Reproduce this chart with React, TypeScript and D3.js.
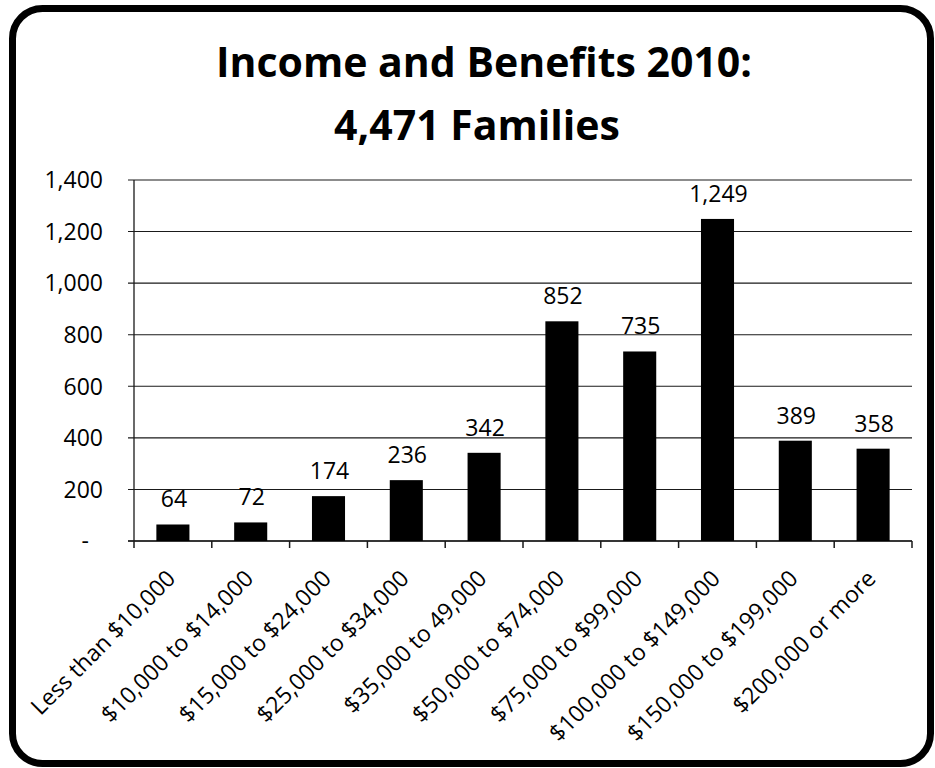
import React from "react";
import * as d3 from "d3";

const categories = [
  "Less than $10,000",
  "$10,000 to $14,000",
  "$15,000 to $24,000",
  "$25,000 to $34,000",
  "$35,000 to 49,000",
  "$50,000 to $74,000",
  "$75,000 to $99,000",
  "$100,000 to $149,000",
  "$150,000 to $199,000",
  "$200,000 or more",
];
const families = [64, 72, 174, 236, 342, 852, 735, 1249, 389, 358];
const yTicks = [0, 200, 400, 600, 800, 1000, 1200, 1400];
const titleLines = ["Income and Benefits 2010:", "4,471 Families"];

const W = 935;
const H = 768;
const FONT = "'Open Sans', 'DejaVu Sans', sans-serif";

export default function App() {
  const left = 134;
  const right = 912;
  const top = 180;
  const bottom = 541;

  const x = d3.scaleBand<string>().domain(categories).range([left, right]).padding(0);
  const y = d3.scaleLinear().domain([0, 1400]).range([bottom, top]);
  const barW = x.bandwidth() * 0.425;
  const fmt = d3.format(",");

  return (
    <svg
      width={W}
      height={H}
      viewBox={`0 0 ${W} ${H}`}
      style={{ position: "absolute", left: 0, top: 0, display: "block", background: "#fff" }}
    >
      <rect x={0} y={0} width={W} height={H} fill="#fff" />
      {/* outer rounded frame */}
      <rect x={12.5} y={8.5} width={918} height={755} rx={30} ry={30} fill="none" stroke="#000" strokeWidth={7} />

      {/* title */}
      <text x={484} y={77} textAnchor="middle" fontFamily={FONT} fontWeight={700} fontSize={41} fill="#000">
        {titleLines[0]}
      </text>
      <text x={477} y={140} textAnchor="middle" fontFamily={FONT} fontWeight={700} fontSize={41} fill="#000">
        {titleLines[1]}
      </text>

      {/* gridlines + y ticks */}
      {yTicks.map((t) => (
        <g key={t}>
          <line x1={left - 6} x2={right} y1={y(t)} y2={y(t)} stroke="#1a1a1a" strokeWidth={1.1} />
          <text
            x={t === 0 ? 89 : 103}
            y={y(t)}
            dy="0.36em"
            textAnchor="end"
            fontFamily={FONT}
            fontSize={23}
            fill="#000"
          >
            {t === 0 ? "-" : fmt(t)}
          </text>
        </g>
      ))}

      {/* y axis line */}
      <line x1={left} x2={left} y1={top} y2={bottom} stroke="#1a1a1a" strokeWidth={1.3} />
      {/* x axis line */}
      <line x1={left - 6} x2={right} y1={bottom} y2={bottom} stroke="#1a1a1a" strokeWidth={1.5} />
      {/* x ticks at category boundaries */}
      {categories.map((c) => (
        <line key={"t" + c} x1={x(c)!} x2={x(c)!} y1={bottom} y2={bottom + 7} stroke="#1a1a1a" strokeWidth={1.5} />
      ))}
      <line x1={right} x2={right} y1={bottom} y2={bottom + 7} stroke="#1a1a1a" strokeWidth={1.5} />

      {/* bars */}
      {categories.map((c, i) => {
        const cx = x(c)! + x.bandwidth() / 2;
        return (
          <g key={c}>
            <rect x={cx - barW / 2} y={y(families[i])} width={barW} height={bottom - y(families[i])} fill="#000" />
            <text
              x={cx + 1}
              y={y(families[i]) - 17}
              textAnchor="middle"
              fontFamily={FONT}
              fontSize={23}
              fill="#000"
            >
              {fmt(families[i])}
            </text>
          </g>
        );
      })}

      {/* category labels */}
      {categories.map((c) => {
        const cx = x(c)! + x.bandwidth() / 2 + 4;
        const ly = bottom + 39;
        return (
          <text
            key={"l" + c}
            x={cx}
            y={ly}
            transform={`rotate(-45, ${cx}, ${ly})`}
            textAnchor="end"
            fontFamily={FONT}
            fontSize={23}
            fill="#000"
          >
            {c}
          </text>
        );
      })}
    </svg>
  );
}
